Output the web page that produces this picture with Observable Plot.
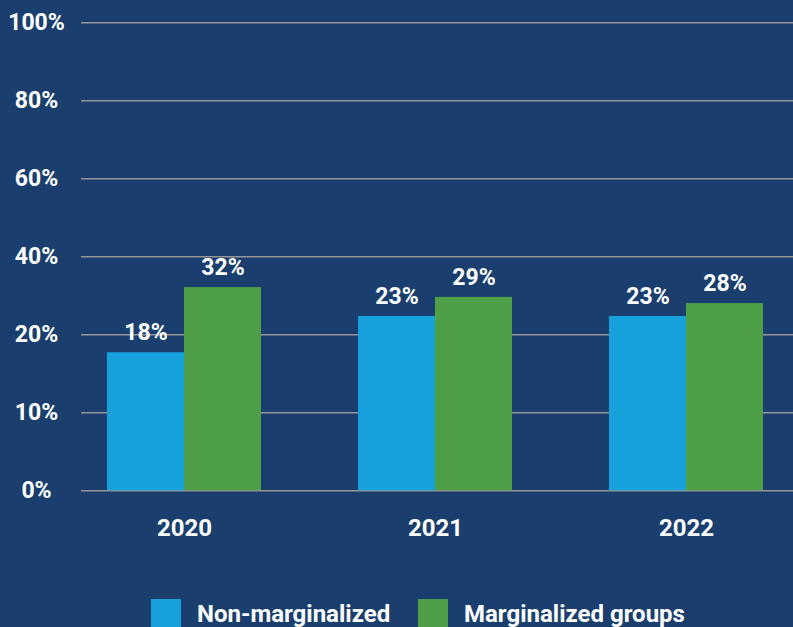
<!DOCTYPE html>
<html>
<head>
<meta charset="utf-8">
<script src="https://cdn.jsdelivr.net/npm/d3@7"></script>
<script src="https://cdn.jsdelivr.net/npm/@observablehq/plot@0.6"></script>
<style>
  html, body { margin: 0; padding: 0; background: #1a3f6e; width: 793px; height: 627px; overflow: hidden; }
  #wrap { position: relative; width: 793px; height: 627px; font-family: Roboto, "Noto Sans", sans-serif; }
  #chart { position: absolute; left: 0; top: 0; }
  .legend-item { position: absolute; top: 599px; display: flex; align-items: center; height: 30px; }
  .sw { width: 30px; height: 30px; margin-right: 16px; }
  .lbl { color: #fff; font-weight: 700; font-size: 24px; line-height: 30px; white-space: nowrap; }
</style>
</head>
<body>
<div id="wrap">
  <div id="chart"></div>
  <div id="legend"></div>
</div>
<script>
const years = ["2020", "2021", "2022"];
const seriesNames = ["Non-marginalized", "Marginalized groups"];
const nonMarginalized = [17.7, 24.7, 24.7];
const marginalized = [32.1, 29.6, 28.0];
const nonMarginalizedLabels = ["18%", "23%", "23%"];
const marginalizedLabels = ["32%", "29%", "28%"];
const yTicks = [0, 10, 20, 40, 60, 80, 100];
const yTickLabels = ["0%", "10%", "20%", "40%", "60%", "80%", "100%"];

const colors = ["#16a0dc", "#4f9e48"];

const rows = years.map((year, i) => ({
  year,
  non: nonMarginalized[i],
  marg: marginalized[i],
  nonLabel: nonMarginalizedLabels[i],
  margLabel: marginalizedLabels[i]
}));
const ticks = yTicks.map((v, i) => ({v, label: yTickLabels[i]}));

// The original axis places its (uneven) ticks at equal spacing: piecewise transform
const piecewise = d3.scaleLinear().domain(yTicks).range(yTicks.map((_, i) => i));

const font = {fill: "white", fontSize: 23, fontWeight: "bold"};

const chart = Plot.plot({
  width: 793,
  height: 590,
  marginLeft: 81,
  marginRight: 0,
  marginTop: 22.3,
  marginBottom: 590 - 490.3,
  style: {background: "transparent", fontFamily: "Roboto, 'Noto Sans', sans-serif", color: "white", overflow: "visible"},
  x: {domain: years, axis: null, paddingInner: 0.3865, paddingOuter: 0.1113, align: 0.465},
  y: {transform: piecewise, domain: [0, yTicks.length - 1], axis: null},
  marks: [
    Plot.ruleY(yTicks, {stroke: "#959595", strokeWidth: 1.6}),
    Plot.barY(rows, {x: "year", y: "non", fill: colors[0], insetRight: 77}),
    Plot.barY(rows, {x: "year", y: "marg", fill: colors[1], insetLeft: 77}),
    Plot.text(rows, {x: "year", y: "non", text: "nonLabel", dx: -38.5, dy: -20, ...font}),
    Plot.text(rows, {x: "year", y: "marg", text: "margLabel", dx: 38.5, dy: -20, ...font}),
    Plot.text(ticks, {y: "v", text: "label", frameAnchor: "left", dx: -45, textAnchor: "middle", ...font}),
    Plot.text(years, {x: d => d, y: () => 0, text: d => d, dy: 37.5, ...font, fontSize: 24})
  ]
});
document.getElementById("chart").appendChild(chart);

const legend = document.getElementById("legend");
const legendLefts = [151, 418];
seriesNames.forEach((name, i) => {
  const item = document.createElement("div");
  item.className = "legend-item";
  item.style.left = legendLefts[i] + "px";
  const sw = document.createElement("div");
  sw.className = "sw";
  sw.style.background = colors[i];
  const lbl = document.createElement("div");
  lbl.className = "lbl";
  lbl.textContent = name;
  item.appendChild(sw);
  item.appendChild(lbl);
  legend.appendChild(item);
});
</script>
</body>
</html>
